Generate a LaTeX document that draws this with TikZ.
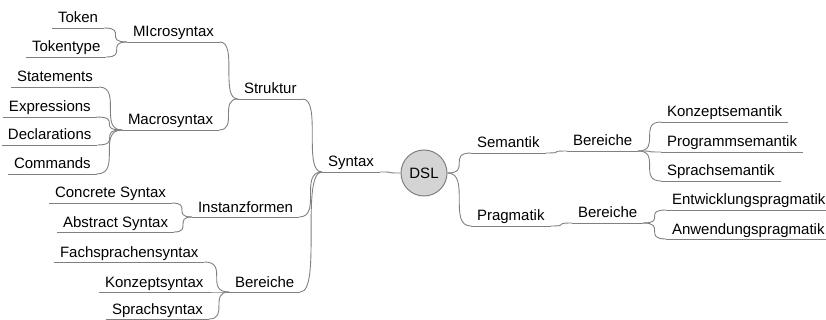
\documentclass[tikz,border=0pt]{standalone}
\usepackage{fontspec}
\setmainfont{Liberation Sans}
\definecolor{lineColour}{RGB}{128, 128, 128}
\definecolor{dslColour}{RGB}{212, 212, 212}
\begin{document}
\begin{tikzpicture}[
        x=1pt, y=-1pt,
        topic/.style={anchor=south west, inner xsep=6pt, inner ysep=0pt, outer sep=0pt,
            text height=11pt, text depth=5pt, font=\fontsize{15}{18}\selectfont},
        rootnode/.style={circle, draw=lineColour, fill=dslColour, line width=1pt,
            minimum size=46pt, inner sep=0pt, font=\fontsize{15}{18}\selectfont},
        underline/.style={draw=lineColour, line width=0.9pt},
    ]
    \useasboundingbox (0,0) rectangle (826,320);

    % left side
    \begin{scope}
        \node[topic] (tok) at (52,28) {Token};
        \node[topic] (toktype) at (26,57) {Tokentype};
        \node[topic] (micro) at (127,42) {MIcrosyntax};
        \node[topic] (stmt) at (11,87) {Statements};
        \node[topic] (expr) at (3,117) {Expressions};
        \node[topic] (decl) at (2,145) {Declarations};
        \node[topic] (cmd) at (8,174) {Commands};
        \node[topic] (macro) at (122,130) {Macrosyntax};
        \node[topic] (struktur) at (238,99) {Struktur};
        \node[topic] (concrete) at (49,203) {Concrete Syntax};
        \node[topic] (abstract) at (57,232) {Abstract Syntax};
        \node[topic] (inst) at (192,217) {Instanzformen};
        \node[topic] (fach) at (54,262) {Fachsprachensyntax};
        \node[topic] (konzsyn) at (99,292) {Konzeptsyntax};
        \node[topic] (sprsyn) at (106,319) {Sprachsyntax};
        \node[topic] (bersyn) at (229,292) {Bereiche};
        \node[topic] (syntax) at (322,172) {Syntax};
    \end{scope}

    \node[rootnode] (dsl) at (424,173) {DSL};

    % right side
    \begin{scope}
        \node[topic] (sem) at (471,153) {Semantik};
        \node[topic] (bersem) at (567,151) {Bereiche};
        \node[topic] (konzsem) at (661,122) {Konzeptsemantik};
        \node[topic] (progsem) at (661,152) {Programmsemantik};
        \node[topic] (sprsem) at (661,181) {Sprachsemantik};
        \node[topic] (prag) at (471,226) {Pragmatik};
        \node[topic] (berprag) at (572,223) {Bereiche};
        \node[topic] (entw) at (666,210) {Entwicklungspragmatik};
        \node[topic] (anw) at (666,239) {Anwendungspragmatik};
    \end{scope}

    \foreach \n in {tok, toktype, micro, stmt, expr, decl, cmd, macro, struktur,
            concrete, abstract, inst, fach, konzsyn, sprsyn, bersyn, syntax,
            sem, bersem, konzsem, progsem, sprsem, prag, berprag, entw, anw}
        \draw[underline] (\n.south west) -- (\n.south east);

    \begin{scope} [every edge/.style={draw=lineColour, line width=0.9pt,
            to path={.. controls (\tikztotarget|-\tikztostart) and (\tikztostart|-\tikztotarget) .. (\tikztotarget)}}]
        \path (tok.south east) edge (micro.south west);
        \path (toktype.south east) edge (micro.south west);
        \path (stmt.south east) edge (macro.south west);
        \path (expr.south east) edge (macro.south west);
        \path (decl.south east) edge (macro.south west);
        \path (cmd.south east) edge (macro.south west);
        \path (micro.south east) edge (struktur.south west);
        \path (macro.south east) edge (struktur.south west);
        \path (concrete.south east) edge (inst.south west);
        \path (abstract.south east) edge (inst.south west);
        \path (fach.south east) edge (bersyn.south west);
        \path (konzsyn.south east) edge (bersyn.south west);
        \path (sprsyn.south east) edge (bersyn.south west);
        \path (struktur.south east) edge (syntax.south west);
        \path (inst.south east) edge (syntax.south west);
        \path (bersyn.south east) edge (syntax.south west);
        \path (syntax.south east) edge (dsl.west);
        \path (dsl.east) edge (sem.south west);
        \path (dsl.east) edge (prag.south west);
        \path (sem.south east) edge (bersem.south west);
        \path (prag.south east) edge (berprag.south west);
        \path (bersem.south east) edge (konzsem.south west);
        \path (bersem.south east) edge (progsem.south west);
        \path (bersem.south east) edge (sprsem.south west);
        \path (berprag.south east) edge (entw.south west);
        \path (berprag.south east) edge (anw.south west);
    \end{scope}
\end{tikzpicture}
\end{document}
